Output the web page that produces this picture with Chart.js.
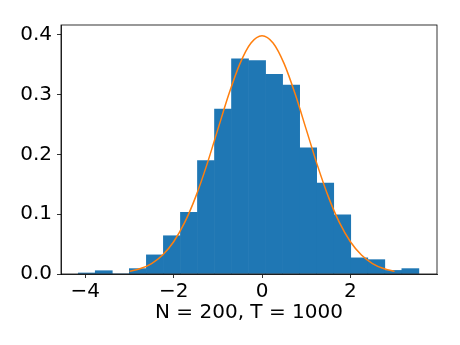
<!DOCTYPE html>
<html>
<head>
<meta charset="utf-8">
<script src="https://cdn.jsdelivr.net/npm/chart.js@4"></script>
<style>
  html, body { margin: 0; padding: 0; background: #fff; }
  #wrap { width: 460px; height: 345px; }
</style>
</head>
<body>
<div id="wrap"><canvas id="chart"></canvas></div>
<script>
// histogram bin centres (20 bins, width ~0.3855) and densities
const binCenters = [-3.967, -3.582, -3.196, -2.811, -2.425, -2.040, -1.654, -1.269, -0.883, -0.498,
                    -0.112, 0.273, 0.659, 1.044, 1.430, 1.815, 2.201, 2.586, 2.972, 3.357];
const binHeights = [0.0017, 0.0055, 0, 0.0090, 0.032, 0.064, 0.103, 0.190, 0.276, 0.360,
                    0.357, 0.334, 0.316, 0.211, 0.152, 0.099, 0.027, 0.024, 0.006, 0.009];

// orange curve
const curveX = [-3, -2.75, -2.5, -2.25, -2, -1.75, -1.5, -1.25, -1, -0.75, -0.5, -0.25, 0,
                0.25, 0.5, 0.75, 1, 1.25, 1.5, 1.75, 2, 2.25, 2.5, 2.75, 3];
const curveY = [0.0044, 0.0091, 0.0175, 0.0317, 0.054, 0.0863, 0.1295, 0.1826, 0.242, 0.3011, 0.3521, 0.3867, 0.3989,
                0.3867, 0.3521, 0.3011, 0.242, 0.1826, 0.1295, 0.0863, 0.054, 0.0317, 0.0175, 0.0091, 0.0044];

const xTicks = [-4, -2, 0, 2];
const yTicks = [0, 0.1, 0.2, 0.3, 0.4];
const xLabel = "N = 200, T = 1000";

const FONT = { family: "'DejaVu Sans', sans-serif", size: 20 };

// top and right spines
const frame = {
  id: 'frame',
  afterDraw(chart) {
    const { ctx, chartArea: a } = chart;
    ctx.save();
    ctx.strokeStyle = '#000';
    ctx.lineWidth = 0.8;
    ctx.strokeRect(a.left, a.top, a.right - a.left, a.bottom - a.top);
    ctx.restore();
  }
};

new Chart(document.getElementById('chart'), {
  data: {
    datasets: [
      {
        type: 'bar',
        data: binCenters.map((x, i) => ({ x: x, y: binHeights[i] })),
        backgroundColor: '#1f77b4',
        borderWidth: 0,
        barPercentage: 1.0,
        categoryPercentage: 1.0,
        order: 2
      },
      {
        type: 'line',
        data: curveX.map((x, i) => ({ x: x, y: curveY[i] })),
        borderColor: '#ff7f0e',
        borderWidth: 1.5,
        pointRadius: 0,
        cubicInterpolationMode: 'monotone',
        fill: false,
        order: 1
      }
    ]
  },
  options: {
    responsive: true,
    maintainAspectRatio: false,
    animation: false,
    layout: { padding: { left: 0, right: 23, top: 25, bottom: 0 } },
    plugins: { legend: { display: false }, tooltip: { enabled: false } },
    scales: {
      x: {
        type: 'linear',
        offset: false,
        min: -4.55,
        max: 3.96,
        afterBuildTicks: (s) => { s.ticks = xTicks.map(v => ({ value: v })); },
        afterFit: (s) => { s.height = 71; },
        grid: { display: true, offset: false, drawOnChartArea: false, drawTicks: true, tickLength: 4, tickColor: '#000', tickWidth: 0.8 },
        border: { display: true, color: '#000', width: 0.8 },
        ticks: {
          color: '#000', font: FONT, padding: 2, maxRotation: 0,
          callback: (v) => v < 0 ? '\u2212' + Math.abs(v) : String(v)
        },
        title: { display: true, text: xLabel, color: '#000', font: FONT, padding: { top: 0, bottom: 20 } }
      },
      y: {
        min: 0,
        max: 0.4167,
        afterBuildTicks: (s) => { s.ticks = yTicks.map(v => ({ value: v })); },
        afterFit: (s) => { s.width = 61; },
        grid: { display: true, drawOnChartArea: false, drawTicks: true, tickLength: 4, tickColor: '#000', tickWidth: 0.8 },
        border: { display: true, color: '#000', width: 0.8 },
        ticks: { color: '#000', font: FONT, padding: 5, callback: (v) => v.toFixed(1) }
      }
    }
  },
  plugins: [frame]
});
</script>
</body>
</html>
